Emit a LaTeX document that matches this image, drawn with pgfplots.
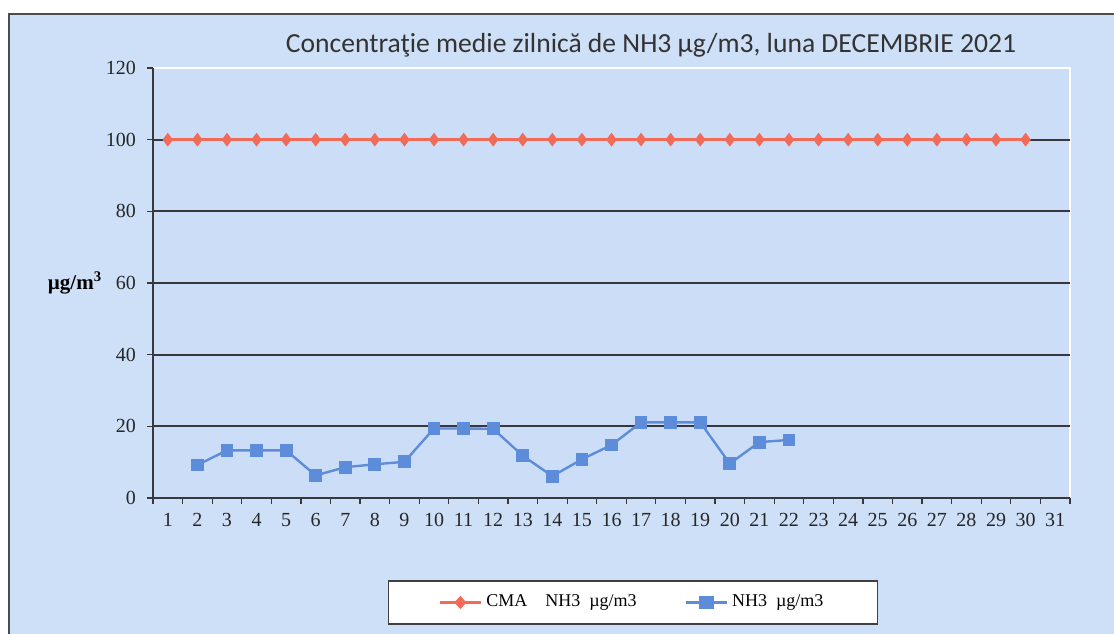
\documentclass[border=0pt]{standalone}
\usepackage{fontspec}
\setmainfont{Liberation Serif}
\newfontfamily\titlefont{Carlito}
\usepackage{pgfplots}
\pgfplotsset{compat=1.18}
\definecolor{bgblue}{RGB}{206,224,247}
\definecolor{plotbg}{RGB}{204,222,247}
\definecolor{cmared}{RGB}{242,106,88}
\definecolor{nhblue}{RGB}{92,140,218}
\definecolor{gridc}{RGB}{55,55,60}
\begin{document}
\begin{tikzpicture}[x=1pt,y=1pt]
\useasboundingbox (0,0) rectangle (557,316.5);
\fill[white] (0,0) rectangle (557,316.5);
\filldraw[fill=bgblue, draw=gridc!90, line width=0.8pt] (4.5,309.5) rectangle (580,-20);
\node[font=\titlefont\fontsize{13.8}{16}\selectfont, text=black!80] at (325.5,294) {Concentraţie medie zilnică de NH3 µg/m3, luna DECEMBRIE 2021};
\node[font=\bfseries\fontsize{10.5}{12}\selectfont] at (37.5,175) {µg/m\textsuperscript{3}};
\begin{axis}[
  at={(76.5pt,67.5pt)}, anchor=south west,
  scale only axis, width=458.5pt, height=215pt,
  xmin=0.5, xmax=31.5, ymin=0, ymax=120,
  axis x line*=bottom, axis y line*=left,
  axis line style={gridc, line width=0.8pt, -},
  axis background/.style={fill=plotbg, draw=white, line width=1pt},
  xtick={1,...,31},
  minor xtick={0.5,1.5,...,31.5},
  major x tick style={draw=none},
  minor tick length=3pt,
  major tick length=3pt,
  tick align=outside,
  tick style={gridc, line width=0.6pt},
  ytick={0,20,...,100},
  extra y ticks={120},
  extra y tick style={grid=none},
  ymajorgrids,
  major grid style={gridc, line width=0.9pt},
  /pgf/number format/assume math mode=true,
  tick label style={font=\fontsize{10}{12}\selectfont, text=black!85},
  yticklabel style={xshift=-2pt},
  xticklabel style={yshift=-1pt},
  legend columns=2,
  legend style={at={(axis description cs:0.5234,-0.243)}, anchor=center,
    draw=black!75, line width=0.6pt, fill=white,
    font=\fontsize{9}{11}\selectfont, inner xsep=25pt, inner ysep=5pt,
    /tikz/every even column/.append style={column sep=22pt}},
  legend image post style={xscale=1.2},
]
\addplot[cmared, line width=1.4pt, mark=diamond*, mark size=2.3pt, mark options={fill=cmared, draw=cmared}] coordinates {
(1,100)(2,100)(3,100)(4,100)(5,100)(6,100)(7,100)(8,100)(9,100)(10,100)
(11,100)(12,100)(13,100)(14,100)(15,100)(16,100)(17,100)(18,100)(19,100)(20,100)
(21,100)(22,100)(23,100)(24,100)(25,100)(26,100)(27,100)(28,100)(29,100)(30,100)};
\addlegendentry{CMA\quad NH3\ \ µg/m3}
\addplot[nhblue, line width=1.2pt, mark=square*, mark size=2.6pt, mark options={fill=nhblue, draw=nhblue}] coordinates {
(2,9.2)(3,13.3)(4,13.3)(5,13.3)(6,6.3)(7,8.6)(8,9.4)(9,10.1)(10,19.4)(11,19.4)
(12,19.3)(13,11.8)(14,6.1)(15,10.8)(16,14.8)(17,21.1)(18,21.1)(19,21.1)(20,9.6)(21,15.6)(22,16.2)};
\addlegendentry{NH3\ \ µg/m3}
\end{axis}
\end{tikzpicture}
\end{document}
